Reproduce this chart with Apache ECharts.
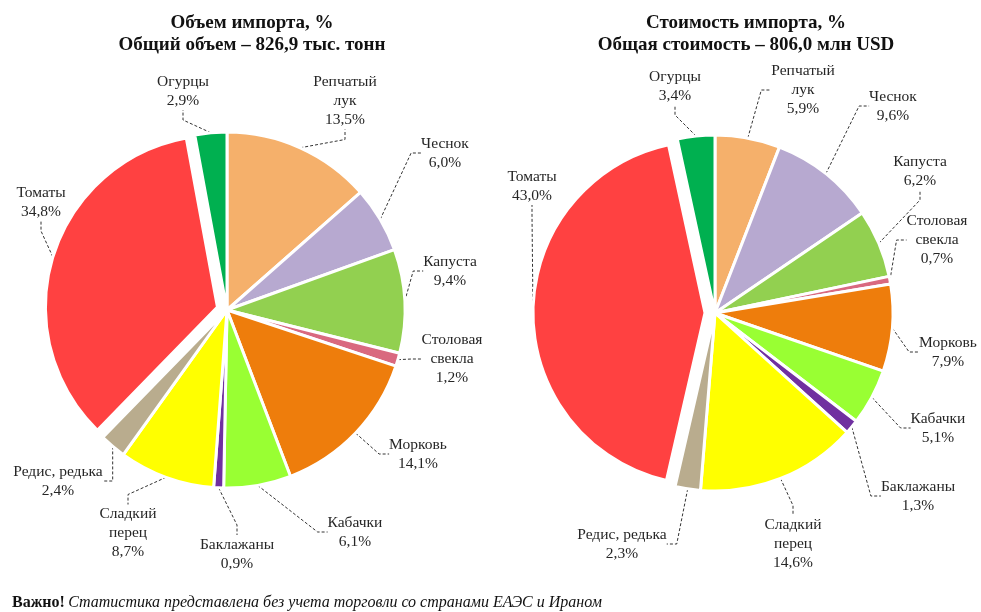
<!DOCTYPE html>
<html><head><meta charset="utf-8">
<script src="https://cdn.jsdelivr.net/npm/echarts@6/dist/echarts.min.js"></script>
<style>html,body{margin:0;padding:0;background:#fff}#c{width:981px;height:612px}</style>
</head><body><div id="c"></div>
<script>
const categories = ['Репчатый\nлук', 'Чеснок', 'Капуста', 'Столовая\nсвекла', 'Морковь', 'Кабачки', 'Баклажаны', 'Сладкий\nперец', 'Редис, редька', 'Томаты', 'Огурцы'];
const volumeShare = [13.5, 6.0, 9.4, 1.2, 14.1, 6.1, 0.9, 8.7, 2.4, 34.8, 2.9];
const valueShare = [5.9, 9.6, 6.2, 0.7, 7.9, 5.1, 1.3, 14.6, 2.3, 43.0, 3.4];
const titles = [
  ['Объем импорта, %', 'Общий объем – 826,9 тыс. тонн'],
  ['Стоимость импорта, %', 'Общая стоимость – 806,0 млн USD']
];
const note = ['Важно!', 'Статистика представлена без учета торговли со странами ЕАЭС и Ираном'];

const colors = ['#F5B06B', '#B7A9D0', '#92D050', '#D9697F', '#EE7D0C', '#99FF33', '#7030A0', '#FFFF00', '#B9AC8E', '#FF4141', '#00B050'];
const explodedIndex = 9; // Томаты
const explodeDist = 10;

// label block centres (layout only)
const labelPos = [
  [[345,101],[445,153],[450,271],[452,359],[418,454],[355,532],[237,554],[128,533],[58,481],[41,202],[183,91]],
  [[803,90],[893,106],[920,171],[937,240],[948,352],[938,428],[918,496],[793,544],[622,544],[532,186],[675,86]]
];
const centers = [[227,310],[715,313]];
const serif = '"Liberation Serif", "DejaVu Serif", serif';
const NONE = 'rgba(0,0,0,0)';

function fmt(v){ return v.toFixed(1).replace('.', ',') + '%'; }

function makeSeries(idx, values, explodedPart){
  const total = values.reduce((a,b)=>a+b,0);
  let before = 0; for (let i=0;i<explodedIndex;i++) before += values[i];
  const mid = (before + values[explodedIndex]/2)/total*2*Math.PI;
  const c = centers[idx];
  const center = explodedPart ? [c[0]+Math.sin(mid)*explodeDist, c[1]-Math.cos(mid)*explodeDist] : c;
  const data = categories.map((name,i)=>{
    const visible = explodedPart ? i===explodedIndex : i!==explodedIndex;
    return {
      name, value: values[i],
      itemStyle: visible ? {color:colors[i], borderColor:'#fff', borderWidth:3} : {color:NONE, borderColor:NONE, borderWidth:0},
      label:{show:visible}, labelLine:{show:visible}
    };
  });
  return {
    type:'pie', center, radius:[0, explodedPart ? 172 : 178], startAngle:90, clockwise:true,
    animation:false, avoidLabelOverlap:false, silent:true,
    emphasis:{disabled:true},
    label:{show:true, position:'outside', fontFamily:serif, fontSize:15.5, lineHeight:19, color:'#262626', align:'center',
      formatter:p=>p.name+'\n'+fmt(p.value)},
    labelLine:{show:true, length:10, length2:10, lineStyle:{type:[3,2], color:'#333', width:1}},
    labelLayout:function(p){ const q=labelPos[idx][p.dataIndex]; return {x:q[0], y:q[1], align:'center', verticalAlign:'middle'}; },
    data
  };
}
const chart = echarts.init(document.getElementById('c'), null, {renderer:'canvas'});
const titleX=[252,746];
const graphics=[];
titles.forEach((t,i)=>{
  graphics.push({type:'text', x:titleX[i], y:23, style:{text:t[0], font:'bold 19px '+serif, textAlign:'center', textVerticalAlign:'middle', fill:'#111'}});
  graphics.push({type:'text', x:titleX[i], y:45, style:{text:t[1], font:'bold 19px '+serif, textAlign:'center', textVerticalAlign:'middle', fill:'#111'}});
});
graphics.push({type:'text', x:12, y:603, style:{text:'{b|'+note[0]+'} {i|'+note[1]+'}', textVerticalAlign:'middle', rich:{b:{fontFamily:serif, fontWeight:'bold', fontSize:16, fill:'#111'}, i:{fontFamily:serif, fontStyle:'italic', fontSize:16, fill:'#111'}}}});
chart.setOption({
  backgroundColor:'#fff',
  graphic:graphics,
  series:[makeSeries(0, volumeShare, false), makeSeries(0, volumeShare, true), makeSeries(1, valueShare, false), makeSeries(1, valueShare, true)]
});
</script></body></html>
